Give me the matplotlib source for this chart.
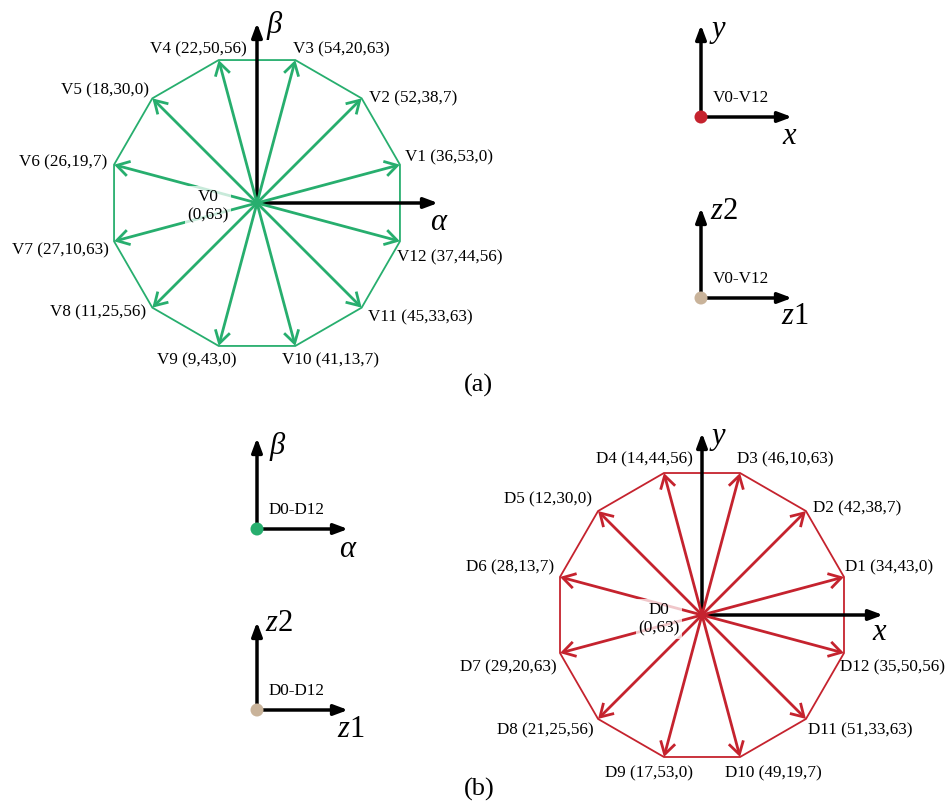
import matplotlib
matplotlib.use("Agg")
import matplotlib.pyplot as plt
from matplotlib.patches import FancyArrowPatch, Circle, Polygon, ArrowStyle
import numpy as np

plt.rcParams['font.family'] = ['Liberation Serif', 'DejaVu Serif']
plt.rcParams['mathtext.fontset'] = 'custom'
plt.rcParams['mathtext.rm'] = 'Liberation Serif'
plt.rcParams['mathtext.it'] = 'Liberation Serif:italic'

# ---- data -------------------------------------------------------------
vector_angles = [15, 45, 75, 105, 135, 165, 195, 225, 255, 285, 315, 345]

v_names = ['V1', 'V2', 'V3', 'V4', 'V5', 'V6',
           'V7', 'V8', 'V9', 'V10', 'V11', 'V12']
v_codes = [(36, 53, 0), (52, 38, 7), (54, 20, 63), (22, 50, 56),
           (18, 30, 0), (26, 19, 7), (27, 10, 63), (11, 25, 56),
           (9, 43, 0), (41, 13, 7), (45, 33, 63), (37, 44, 56)]

d_names = ['D1', 'D2', 'D3', 'D4', 'D5', 'D6',
           'D7', 'D8', 'D9', 'D10', 'D11', 'D12']
d_codes = [(34, 43, 0), (42, 38, 7), (46, 10, 63), (14, 44, 56),
           (12, 30, 0), (28, 13, 7), (29, 20, 63), (21, 25, 56),
           (17, 53, 0), (49, 19, 7), (51, 33, 63), (35, 50, 56)]

zero_v = ('V0', (0, 63))
zero_d = ('D0', (0, 63))

# ---- style ------------------------------------------------------------
GREEN = '#27AE6E'
RED = '#C5232E'
TAN = '#C9B39A'
BLACK = '#000000'

LABEL_FS = 12.3
AXIS_FS = 22
PANEL_FS = 19

fig = plt.figure(figsize=(9.53, 8.05), dpi=100)
ax = fig.add_axes([0, 0, 1, 1])
ax.set_xlim(0, 953)
ax.set_ylim(805, 0)
ax.axis('off')

open_head = ArrowStyle('->', head_length=0.75, head_width=0.45)
solid_head = ArrowStyle('-|>', head_length=0.75, head_width=0.28)


def axis_arrow(p0, p1):
    ax.add_patch(FancyArrowPatch(p0, p1, arrowstyle=solid_head,
                                 mutation_scale=11, lw=2.5, color=BLACK,
                                 shrinkA=0, shrinkB=0, zorder=2))


def axis_label(pos, s):
    # greek symbols are set in italic text; math strings carry their own style
    ax.text(pos[0], pos[1], s, fontsize=AXIS_FS,
            style='normal' if '$' in s else 'italic',
            ha='center', va='center')


def vector_diagram(center, radius, names, codes, zero, color, offsets,
                   zero_pos, x_end, y_end, x_lab, y_lab):
    cx, cy = center
    tips = []
    for a in vector_angles:
        t = np.deg2rad(a)
        tips.append((cx + radius * np.cos(t), cy - radius * np.sin(t)))
    # outer dodecagon
    ax.add_patch(Polygon(tips, closed=True, fill=False, ec=color,
                         lw=1.3, zorder=1, joinstyle='miter'))
    # reference axes
    axis_arrow((cx, cy), (x_end, cy))
    axis_arrow((cx, cy), (cx, y_end))
    axis_label(*x_lab)
    axis_label(*y_lab)
    # spokes
    for tip in tips:
        ax.add_patch(FancyArrowPatch((cx, cy), tip, arrowstyle=open_head,
                                     mutation_scale=12, lw=2.0, color=color,
                                     shrinkA=0, shrinkB=0, zorder=3,
                                     joinstyle='miter', capstyle='butt'))
    # labels
    for tip, name, code, (dx, dy, ha) in zip(tips, names, codes, offsets):
        txt = '%s (%d,%d,%d)' % ((name,) + tuple(code))
        ax.text(tip[0] + dx, tip[1] + dy, txt, fontsize=LABEL_FS,
                ha=ha, va='center', zorder=5)
    zname, zcode = zero
    ax.text(zero_pos[0], zero_pos[1], '%s\n(%d,%d)' % ((zname,) + zcode),
            fontsize=LABEL_FS, ha='center', va='center', linespacing=1.25,
            zorder=5,
            bbox=dict(boxstyle='square,pad=0.12', fc='white', ec='none',
                      alpha=0.75))


def mini_axes(origin, x_end, y_end, dot_color, text, x_lab, y_lab):
    ox, oy = origin
    axis_arrow((ox, oy), (x_end, oy))
    axis_arrow((ox, oy), (ox, y_end))
    ax.add_patch(Circle((ox, oy), 6.5, fc=dot_color, ec='none', zorder=4))
    ax.text(ox + 12, oy - 19, text, fontsize=LABEL_FS, ha='left',
            va='center')
    axis_label(*x_lab)
    axis_label(*y_lab)


# label offsets from each arrow tip: (dx, dy, alignment)
v_offsets = [(5, -7, 'left'), (7, 0, 'left'), (-2, -11, 'left'),
             (28, -11, 'right'), (-3, -8, 'right'), (-7, -2, 'right'),
             (-5, 9, 'right'), (-6, 5, 'right'), (18, 14, 'right'),
             (-13, 14, 'left'), (6, 10, 'left'), (-3, 16, 'left')]
d_offsets = [(1, -10, 'left'), (7, -3, 'left'), (-3, -14, 'left'),
             (29, -14, 'right'), (-6, -12, 'right'), (-6, -10, 'right'),
             (-3, 14, 'right'), (-4, 11, 'right'), (29, 16, 'right'),
             (-15, 16, 'left'), (2, 11, 'left'), (-4, 14, 'left')]

# (a) alpha-beta plane with V vectors
vector_diagram((257, 203), 148, v_names, v_codes, zero_v, GREEN, v_offsets,
               (208, 206), 438, 23,
               ((438, 222), 'α'), ((274, 26), 'β'))
mini_axes((701, 117), 792, 25, RED, 'V0-V12',
          ((790, 136), '$x$'), ((718, 31), '$y$'))
mini_axes((701, 298), 792, 208, TAN, 'V0-V12',
          ((795, 316), '$z$1'), ((724, 211), '$z$2'))
ax.text(478, 385, '(a)', fontsize=PANEL_FS, ha='center', va='center')

# (b) x-y plane with D vectors
mini_axes((257, 529), 348, 438, GREEN, 'D0-D12',
          ((347, 549), 'α'), ((277, 446), 'β'))
mini_axes((257, 710), 348, 622, TAN, 'D0-D12',
          ((351, 729), '$z$1'), ((279, 623), '$z$2'))
vector_diagram((702, 615), 147, d_names, d_codes, zero_d, RED, d_offsets,
               (659, 619), 883, 433,
               ((880, 632), '$x$'), ((718, 438), '$y$'))
ax.text(479, 789, '(b)', fontsize=PANEL_FS, ha='center', va='center')

fig.savefig('out.png', dpi=100)
